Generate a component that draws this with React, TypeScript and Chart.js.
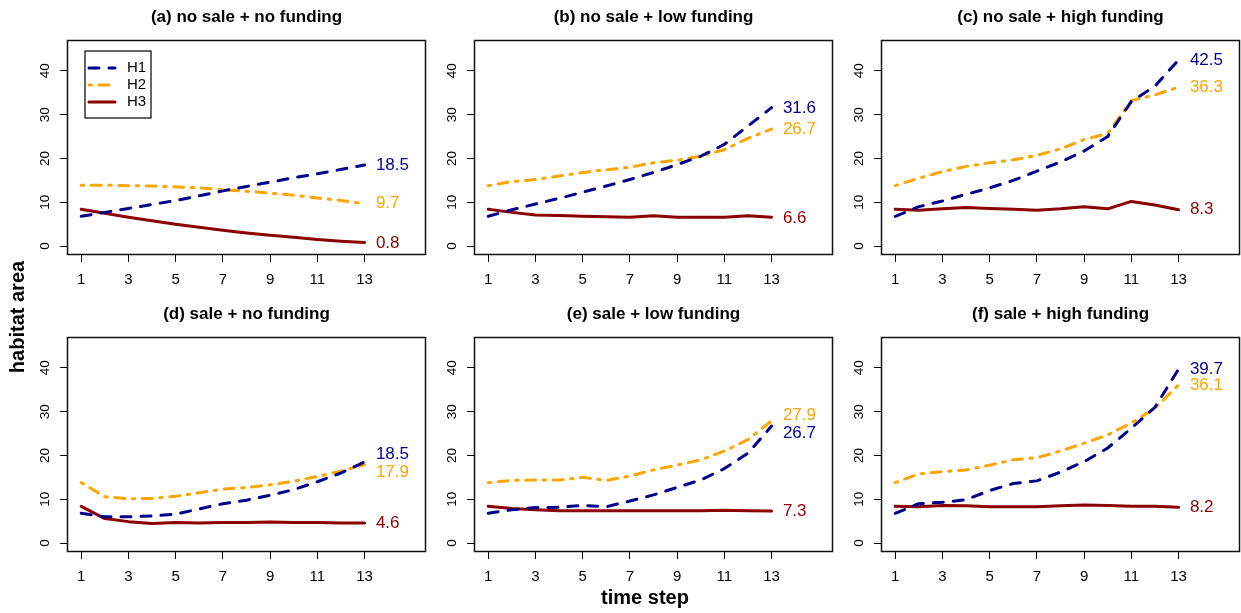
import React, { useEffect, useRef } from "react";
import { Chart, registerables } from "chart.js";

Chart.register(...registerables);

// ---------- data ----------
const STEPS = [1, 2, 3, 4, 5, 6, 7, 8, 9, 10, 11, 12, 13];
const X_TICKS = [1, 3, 5, 7, 9, 11, 13];
const Y_TICKS = [0, 10, 20, 30, 40];
const SERIES_NAMES = ["H1", "H2", "H3"];
const PANEL_TITLES = [
  "(a) no sale + no funding",
  "(b) no sale + low funding",
  "(c) no sale + high funding",
  "(d) sale + no funding",
  "(e) sale + low funding",
  "(f) sale + high funding",
];
const X_AXIS_TITLE = "time step";
const Y_AXIS_TITLE = "habitat area";

const A_H1 = [6.8, 7.7, 8.6, 9.5, 10.4, 11.5, 12.6, 13.6, 14.6, 15.6, 16.5, 17.5, 18.5];
const A_H2 = [13.9, 13.9, 13.8, 13.7, 13.5, 13.3, 12.9, 12.5, 12.1, 11.6, 11.0, 10.4, 9.7];
const A_H3 = [8.4, 7.5, 6.6, 5.8, 5.0, 4.3, 3.6, 3.0, 2.5, 2.0, 1.5, 1.1, 0.8];

const B_H1 = [6.8, 8.3, 9.6, 10.9, 12.3, 13.7, 15.2, 16.8, 18.6, 20.5, 23.2, 27.4, 31.6];
const B_H2 = [13.8, 14.7, 15.2, 16.0, 16.8, 17.4, 18.0, 19.0, 19.6, 20.5, 22.0, 24.6, 26.7];
const B_H3 = [8.4, 7.7, 7.1, 7.0, 6.8, 6.7, 6.6, 6.9, 6.6, 6.6, 6.6, 6.9, 6.6];

const C_H1 = [6.8, 9.0, 10.3, 11.8, 13.3, 15.0, 17.1, 19.2, 21.7, 25.0, 33.0, 36.5, 42.5];
const C_H2 = [13.8, 15.5, 17.0, 18.2, 19.0, 19.7, 20.7, 22.2, 24.3, 25.7, 33.2, 34.5, 36.3];
const C_H3 = [8.4, 8.2, 8.5, 8.8, 8.6, 8.4, 8.2, 8.5, 9.0, 8.5, 10.2, 9.4, 8.3];

const D_H1 = [6.8, 6.0, 6.0, 6.2, 6.6, 7.8, 9.0, 9.8, 10.9, 12.2, 14.0, 16.0, 18.5];
const D_H2 = [13.8, 10.6, 10.1, 10.2, 10.7, 11.5, 12.3, 12.7, 13.3, 14.1, 15.2, 16.4, 17.9];
const D_H3 = [8.4, 5.6, 4.9, 4.5, 4.7, 4.6, 4.7, 4.7, 4.8, 4.7, 4.7, 4.6, 4.6];

const E_H1 = [6.8, 7.6, 8.1, 8.2, 8.6, 8.3, 9.6, 11.0, 12.7, 14.4, 17.0, 20.5, 26.7];
const E_H2 = [13.8, 14.3, 14.4, 14.4, 15.0, 14.3, 15.3, 16.7, 17.8, 19.0, 21.0, 23.6, 27.9];
const E_H3 = [8.4, 7.9, 7.6, 7.4, 7.4, 7.4, 7.4, 7.4, 7.4, 7.4, 7.5, 7.4, 7.3];

const F_H1 = [6.8, 9.0, 9.3, 9.9, 12.0, 13.6, 14.2, 16.2, 18.6, 21.7, 26.2, 31.0, 39.7];
const F_H2 = [13.8, 15.8, 16.3, 16.7, 17.8, 19.0, 19.5, 21.0, 22.8, 24.7, 27.4, 30.8, 36.1];
const F_H3 = [8.4, 8.3, 8.6, 8.5, 8.3, 8.3, 8.3, 8.5, 8.7, 8.6, 8.4, 8.4, 8.2];

// vertical position (data units) of the end-of-line value labels: H1, H2, H3
const LABEL_Y_A = [18.4, 9.7, 0.7];
const LABEL_Y_B = [31.5, 26.7, 6.4];
const LABEL_Y_C = [42.4, 36.2, 8.3];
const LABEL_Y_D = [20.3, 16.2, 4.5];
const LABEL_Y_E = [25.1, 29.2, 7.3];
const LABEL_Y_F = [39.6, 36.0, 8.1];

const PANEL_SERIES = [
  [A_H1, A_H2, A_H3],
  [B_H1, B_H2, B_H3],
  [C_H1, C_H2, C_H3],
  [D_H1, D_H2, D_H3],
  [E_H1, E_H2, E_H3],
  [F_H1, F_H2, F_H3],
];
const PANEL_LABEL_Y = [LABEL_Y_A, LABEL_Y_B, LABEL_Y_C, LABEL_Y_D, LABEL_Y_E, LABEL_Y_F];

// ---------- styles / layout ----------
const PAGE_W = 1241;
const PAGE_H = 613;
const COL_LEFT = [68, 475, 882];
const ROW_TOP = [41, 338];
const BOX_W = 357;
const BOX_H = 213;
const Y_AXIS_W = 30;
const X_AXIS_H = 30;
const X_MIN = 0.44;
const X_MAX = 15.56;
const Y_MIN = -1.8;
const Y_MAX = 46.8;
const LABEL_X = 13.48;

const COLORS = ["#00008B", "#FFA500", "#8B0000"];
const DASHES: number[][] = [[10, 10], [2.5, 7.5, 10, 7.5], []];
const LINE_W = 3;
const FONT = '"Liberation Sans", Arial, Helvetica, sans-serif';

function makePlugin(index: number) {
  return {
    id: "panelDecor" + index,
    afterDraw(chart: any) {
      const ctx = chart.ctx as CanvasRenderingContext2D;
      const { left, right, top, bottom } = chart.chartArea;
      const xs = chart.scales.x;
      const ys = chart.scales.y;
      ctx.save();

      // box
      ctx.strokeStyle = "#111";
      ctx.lineWidth = 1.5;
      ctx.setLineDash([]);
      ctx.strokeRect(left - 0.5, top - 0.5, right - left + 1, bottom - top + 1);

      // y tick labels (rotated)
      ctx.fillStyle = "#000";
      ctx.font = `13.5px ${FONT}`;
      ctx.textAlign = "center";
      ctx.textBaseline = "middle";
      ys.ticks.forEach((t: any) => {
        const py = ys.getPixelForValue(t.value);
        ctx.save();
        ctx.translate(left - 23, py);
        ctx.rotate(-Math.PI / 2);
        ctx.fillText(String(t.value), 0, 0);
        ctx.restore();
      });
      // x tick labels
      ctx.font = `15px ${FONT}`;
      xs.ticks.forEach((t: any) => {
        ctx.fillText(String(t.value), xs.getPixelForValue(t.value), bottom + 26);
      });

      // title
      ctx.font = `bold 17px ${FONT}`;
      ctx.fillText(PANEL_TITLES[index], (left + right) / 2, top - 24);

      // end labels
      ctx.font = `17px ${FONT}`;
      ctx.textAlign = "left";
      const series = PANEL_SERIES[index];
      const ly = PANEL_LABEL_Y[index];
      series.forEach((vals, i) => {
        ctx.fillStyle = COLORS[i];
        ctx.fillText(vals[vals.length - 1].toFixed(1), xs.getPixelForValue(LABEL_X), ys.getPixelForValue(ly[i]));
      });

      if (index === 0) {
        // legend
        const lx = left + 17;
        const lyTop = top + 10;
        ctx.strokeStyle = "#000";
        ctx.lineWidth = 1.2;
        ctx.strokeRect(lx, lyTop, 66, 67);
        ctx.font = `15px ${FONT}`;
        ctx.textBaseline = "middle";
        SERIES_NAMES.forEach((name, i) => {
          const yy = lyTop + 17 + i * 17;
          ctx.strokeStyle = COLORS[i];
          ctx.lineWidth = LINE_W;
          ctx.lineCap = "round";
          ctx.setLineDash(DASHES[i]);
          ctx.beginPath();
          ctx.moveTo(lx + 4, yy);
          ctx.lineTo(lx + 30, yy);
          ctx.stroke();
          ctx.setLineDash([]);
          ctx.fillStyle = "#000";
          ctx.fillText(name, lx + 42, yy);
        });

        // outer axis titles
        ctx.fillStyle = "#000";
        ctx.font = `bold 20px ${FONT}`;
        ctx.textAlign = "center";
        ctx.textBaseline = "middle";
        ctx.fillText(X_AXIS_TITLE, 645, 598);
        ctx.save();
        ctx.translate(18, 317);
        ctx.rotate(-Math.PI / 2);
        ctx.fillText(Y_AXIS_TITLE, 0, 0);
        ctx.restore();
      }
      ctx.restore();
    },
  };
}

function Panel({ index }: { index: number }) {
  const ref = useRef<HTMLCanvasElement>(null);
  useEffect(() => {
    const col = index % 3;
    const row = Math.floor(index / 3);
    const boxLeft = COL_LEFT[col];
    const boxTop = ROW_TOP[row];
    const chart = new Chart(ref.current as HTMLCanvasElement, {
      type: "line",
      data: {
        datasets: PANEL_SERIES[index].map((vals, i) => ({
          label: SERIES_NAMES[i],
          data: STEPS.map((x, j) => ({ x, y: vals[j] })),
          borderColor: COLORS[i],
          backgroundColor: COLORS[i],
          borderWidth: LINE_W,
          borderDash: DASHES[i],
          borderCapStyle: "round",
          borderJoinStyle: "round",
          pointRadius: 0,
          tension: 0,
          fill: false,
        })),
      },
      options: {
        responsive: false,
        animation: false,
        devicePixelRatio: 1,
        events: [],
        layout: {
          padding: {
            left: boxLeft - Y_AXIS_W,
            top: boxTop,
            right: PAGE_W - boxLeft - BOX_W,
            bottom: PAGE_H - boxTop - BOX_H - X_AXIS_H,
          },
        },
        scales: {
          x: {
            type: "linear",
            min: X_MIN,
            max: X_MAX,
            afterBuildTicks: (s: any) => {
              s.ticks = X_TICKS.map((v) => ({ value: v }));
            },
            afterFit: (s: any) => {
              s.height = X_AXIS_H;
            },
            ticks: { display: false },
            grid: { drawOnChartArea: false, drawTicks: true, tickLength: 8, color: "#000", lineWidth: 1 },
            border: { display: false },
          },
          y: {
            type: "linear",
            min: Y_MIN,
            max: Y_MAX,
            afterBuildTicks: (s: any) => {
              s.ticks = Y_TICKS.map((v) => ({ value: v }));
            },
            afterFit: (s: any) => {
              s.width = Y_AXIS_W;
            },
            ticks: { display: false },
            grid: { drawOnChartArea: false, drawTicks: true, tickLength: 8, color: "#000", lineWidth: 1 },
            border: { display: false },
          },
        },
        plugins: {
          legend: { display: false },
          tooltip: { enabled: false },
          title: { display: false },
        },
      } as any,
      plugins: [makePlugin(index)],
    });
    return () => chart.destroy();
  }, [index]);
  return (
    <canvas
      ref={ref}
      width={PAGE_W}
      height={PAGE_H}
      style={{ position: "absolute", left: 0, top: 0, width: PAGE_W, height: PAGE_H }}
    />
  );
}

export default function App() {
  return (
    <div style={{ position: "absolute", left: 0, top: 0, width: PAGE_W, height: PAGE_H, background: "#fff" }}>
      {[0, 1, 2, 3, 4, 5].map((i) => (
        <Panel key={i} index={i} />
      ))}
    </div>
  );
}
